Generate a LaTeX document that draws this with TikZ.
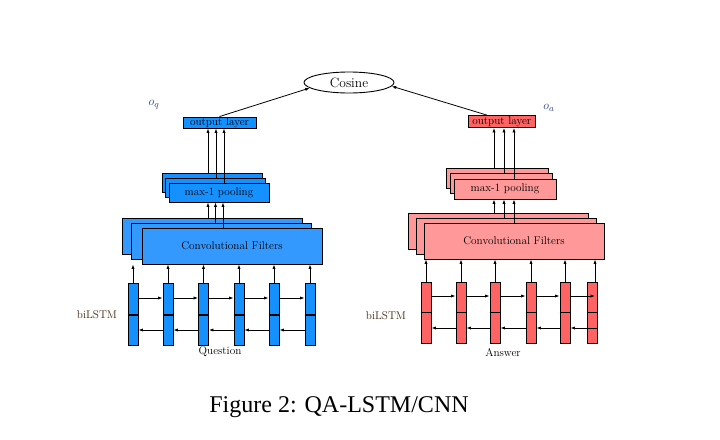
\documentclass[tikz,border=0pt]{standalone}
\usepackage{fontspec}
\newfontfamily\capfont{Liberation Serif}
\usetikzlibrary{arrows.meta,shapes.geometric}
\definecolor{qcell}{RGB}{20,144,255}
\definecolor{qconv}{RGB}{51,153,255}
\definecolor{acell}{RGB}{255,99,99}
\definecolor{aconv}{RGB}{255,153,153}
\definecolor{lblbrown}{RGB}{65,38,15}
\definecolor{lblblue}{RGB}{40,60,140}
\tikzset{
  txt/.style={font=\fontsize{11.2}{13}\selectfont},
  layerbox/.style={draw, line width=0.9pt, inner sep=0pt, txt},
  cellbox/.style={draw, line width=0.9pt, inner sep=0pt, minimum width=10pt},
  arr/.style={-{Latex[length=4.5pt,width=3.2pt]}, line width=0.8pt},
}
\begin{document}
\begin{tikzpicture}[x=1pt,y=-1pt]
\useasboundingbox (0,0) rectangle (720,439);
\fill[white] (0,0) rectangle (720,439);

% Cosine
\node[draw, ellipse, line width=0.9pt, minimum width=90pt, minimum height=21pt, inner sep=0pt,
      font=\fontsize{13.5}{15}\selectfont] (cos) at (349,82.5) {Cosine};

% ---------------- Question side ----------------
\node[layerbox, fill=qcell, minimum width=73pt, minimum height=11pt] (qo) at (219.5,122.5) {output layer};

\node[layerbox, fill=qcell, minimum width=100pt, minimum height=19pt] (pqb) at (212,182.5) {};
\node[layerbox, fill=qcell, minimum width=100pt, minimum height=19pt] (pqm) at (215.5,187.5) {};
\node[layerbox, fill=qcell, minimum width=100pt, minimum height=19pt] (pqf) at (219,192.5) {max-1 pooling};

\node[layerbox, fill=qconv, minimum width=180pt, minimum height=36pt] (cqb) at (212,236) {};
\node[layerbox, fill=qconv, minimum width=180pt, minimum height=36pt] (cqm) at (221,241) {};
\node[layerbox, fill=qconv, minimum width=180pt, minimum height=36pt] (cqf) at (232,246) {Convolutional Filters};

\foreach \i/\x in {1/133,2/168,3/203.5,4/239,5/274,6/310}{
  \node[cellbox, fill=qcell, minimum height=62pt] (q\i) at (\x,314) {};
  \draw[line width=1.6pt] ([yshift=-1pt]q\i.west) -- ([yshift=-1pt]q\i.east);
  \draw[arr] (q\i.north) -- (q\i.north |- cqf.south);
}
\foreach \i/\j in {1/2,2/3,3/4,4/5,5/6}{
  \draw[arr] ([yshift=16pt]q\i.east) -- ([yshift=16pt]q\j.west);
  \draw[arr] ([yshift=-16pt]q\j.west) -- ([yshift=-16pt]q\i.east);
}

\draw[arr] ([xshift=-4pt]cqb.north) -- ([xshift=-4pt]cqb.north |- pqf.south);
\draw[arr] ([xshift=-5.5pt]cqm.north) -- ([xshift=-5.5pt]cqm.north |- pqf.south);
\draw[arr] ([xshift=-9pt]cqf.north) -- ([xshift=-9pt]cqf.north |- pqf.south);

\draw[arr] ([xshift=-4pt]pqb.north) -- ([xshift=-4pt]pqb.north |- qo.south);
\draw[arr] ([xshift=0.5pt]pqm.north) -- ([xshift=0.5pt]pqm.north |- qo.south);
\draw[arr] ([xshift=5pt]pqf.north) -- ([xshift=5pt]pqf.north |- qo.south);

\draw[arr] (qo.north) -- (cos.188);

\node[font=\fontsize{13}{15}\selectfont, text=lblblue] (oq) at (154,105) {$o_q$};
\node[txt, text=lblbrown] (ql) at (97,315) {biLSTM};
\node[txt, inner sep=0pt] (qlab) at (220,352) {Question};

% ---------------- Answer side ----------------
\node[layerbox, fill=acell, minimum width=67.5pt, minimum height=12pt] (ao) at (501.75,121.5) {output layer};

\node[layerbox, fill=aconv, minimum width=102pt, minimum height=20pt] (pab) at (497,178) {};
\node[layerbox, fill=aconv, minimum width=102pt, minimum height=20pt] (pam) at (501,183.5) {};
\node[layerbox, fill=aconv, minimum width=102pt, minimum height=20pt] (paf) at (505,189) {max-1 pooling};

\node[layerbox, fill=aconv, minimum width=180pt, minimum height=36pt] (cab) at (498,231) {};
\node[layerbox, fill=aconv, minimum width=180pt, minimum height=36pt] (cam) at (506,236) {};
\node[layerbox, fill=aconv, minimum width=180pt, minimum height=36pt] (caf) at (514,241) {Convolutional Filters};

\foreach \i/\x in {1/426,2/461,3/495,4/531,5/565,6/592.5}{
  \node[cellbox, fill=acell, minimum height=61pt] (a\i) at (\x,312.5) {};
  \draw[line width=1.6pt] (a\i.west) -- (a\i.east);
}
\foreach \i in {1,2,3,4,5}{
  \draw[arr] (a\i.north) -- (a\i.north |- caf.south);
}
\draw[arr] ([xshift=2.5pt]a6.north) -- ([xshift=2.5pt]a6.north |- caf.south);
\foreach \i/\j in {1/2,2/3,3/4,4/5}{
  \draw[arr] ([yshift=16.5pt]a\i.east) -- ([yshift=16.5pt]a\j.west);
  \draw[arr] ([yshift=-15.5pt]a\j.west) -- ([yshift=-15.5pt]a\i.east);
}
\draw[arr] ([yshift=16.5pt]a5.east) -- ([yshift=16.5pt,xshift=2.5pt]a6.center);
\draw[arr] ([yshift=-15.5pt,xshift=4.5pt]a6.center) -- ([yshift=-15.5pt]a5.east);

\draw[arr] ([xshift=-4pt]cab.north) -- ([xshift=-4pt]cab.north |- paf.south);
\draw[arr] ([xshift=-2pt]cam.north) -- ([xshift=-2pt]cam.north |- paf.south);
\draw[arr] (caf.north) -- (caf.north |- paf.south);

\draw[arr] ([xshift=-3pt]pab.north) -- ([xshift=-3pt]pab.north |- ao.south);
\draw[arr] ([xshift=3pt]pam.north) -- ([xshift=3pt]pam.north |- ao.south);
\draw[arr] ([xshift=9pt]paf.north) -- ([xshift=9pt]paf.north |- ao.south);

\draw[arr] ([xshift=-15pt]ao.north) -- (cos.355);

\node[font=\fontsize{13}{15}\selectfont, text=lblblue] (oa) at (549,108) {$o_a$};
\node[txt, text=lblbrown] (al) at (386,316) {biLSTM};
\node[txt, inner sep=0pt] (alab) at (503,353) {Answer};

% caption
\node[font=\capfont\fontsize{24}{28}\selectfont, anchor=base, inner sep=0pt] (cap) at (339,412) {Figure 2: QA-LSTM/CNN};
\end{tikzpicture}
\end{document}
